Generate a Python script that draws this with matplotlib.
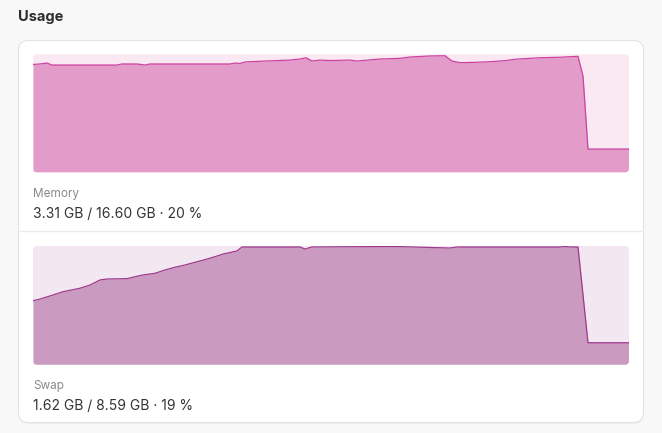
import matplotlib
matplotlib.use("Agg")
import matplotlib.pyplot as plt
from matplotlib.patches import FancyBboxPatch

# ---------------- data ----------------
mem_t = [0, 1.4, 2.8, 3.8, 16.8, 17.8, 20.8, 22.4, 23.4, 39.4, 40.4, 41.4, 42.4,
         46.4, 51.4, 53.4, 54.6, 55.8, 57.4, 59.4, 63.4, 64.8, 69.4, 73.4, 75.4,
         79.4, 82.4, 83.8, 85.4, 88.4, 91.4, 94.4, 96.4, 101.4, 105.4, 109, 110,
         111, 119.2]
mem_pct = [91.4, 91.8, 92.6, 90.9, 90.9, 91.8, 91.8, 90.9, 91.8, 91.8, 92.6, 92.2, 93.5,
           94.3, 95.1, 96.0, 97.1, 94.3, 95.1, 94.7, 95.1, 94.3, 96.0, 96.6, 97.7,
           98.6, 98.8, 94.3, 92.9, 93.2, 93.7, 94.6, 95.8, 97.1, 97.5, 98.3, 81.6,
           19.7, 19.7]

swap_t = [0, 1.4, 4.0, 6.0, 9.4, 11.4, 13.4, 14.8, 18.8, 20.4, 22.0, 24.4, 26.4,
          28.4, 30.4, 32.4, 34.4, 36.4, 38.0, 40.8, 41.8, 53.4, 54.4, 55.8, 72.4,
          83.4, 84.8, 105.4, 106.4, 107.4, 109, 111, 119.2]
swap_pct = [53.9, 55.3, 58.7, 61.5, 64.4, 67.1, 71.4, 72.2, 72.5, 74.1, 75.6, 77.0, 79.8,
            82.1, 84.0, 86.3, 88.5, 91.0, 93.2, 95.8, 99.2, 99.2, 97.5, 99.2, 99.6,
            98.3, 99.2, 99.2, 99.6, 99.2, 99.2, 18.5, 18.5]

title = "Usage"
mem_label = "Memory"
mem_stats = "3.31 GB / 16.60 GB · 20 %"
swap_label = "Swap"
swap_stats = "1.62 GB / 8.59 GB · 19 %"

# ---------------- figure ----------------
W, H = 662, 433
fig = plt.figure(figsize=(W / 100, H / 100), dpi=100)
fig.patch.set_facecolor("#f8f8f8")
plt.rcParams["font.family"] = ["Inter", "DejaVu Sans"]

ov = fig.add_axes([0, 0, 1, 1], zorder=0)
ov.set_xlim(0, W)
ov.set_ylim(H, 0)
ov.axis("off")

# card shadow + card
shadow = FancyBboxPatch((18.5, 41.5), 625, 382, boxstyle="round,pad=0,rounding_size=10",
                        facecolor="#e4e4e4", edgecolor="none")
ov.add_patch(shadow)
card = FancyBboxPatch((18.5, 40.5), 625, 382, boxstyle="round,pad=0,rounding_size=10",
                      facecolor="white", edgecolor="#e3e3e3", linewidth=0.8)
ov.add_patch(card)
ov.plot([19, 643], [231, 231], color="#ececec", lw=1.0)

ov.text(18, 16.5, title, fontsize=10.5, fontweight="bold", color="#2d2d2d", va="center", ha="left")
ov.text(33, 194, mem_label, fontsize=8.5, color="#8a8a8a", va="center", ha="left")
ov.text(33, 213.5, mem_stats, fontsize=10, color="#333333", va="center", ha="left")
ov.text(33, 386, swap_label, fontsize=8.5, color="#8a8a8a", va="center", ha="left")
ov.text(33, 406, swap_stats, fontsize=10, color="#333333", va="center", ha="left")


def area_chart(rect_px, t, vals, bg, fill, line):
    x0, y0, x1, y1 = rect_px
    bgp = FancyBboxPatch((x0, y0), x1 - x0, y1 - y0, boxstyle="round,pad=0,rounding_size=4",
                         facecolor=bg, edgecolor="none")
    ov.add_patch(bgp)
    ax = fig.add_axes([x0 / W, (H - y1) / H, (x1 - x0) / W, (y1 - y0) / H], zorder=1)
    ax.patch.set_alpha(0)
    ax.axis("off")
    ax.set_xlim(0, 119.2)
    ax.set_ylim(0, 100)
    poly = ax.fill_between(t, 0, vals, color=fill, linewidth=0)
    poly.set_clip_path(bgp)
    ln, = ax.plot(t, vals, color=line, lw=0.9)
    ln.set_clip_path(bgp)


area_chart((33, 54.3, 629, 172.3), mem_t, mem_pct, "#fae9f3", "#e39bc9", "#cc42a0")
area_chart((33, 246, 629, 364.7), swap_t, swap_pct, "#f3e7f1", "#cb9ac1", "#9e3a8c")

fig.savefig("out.png", dpi=100, facecolor=fig.get_facecolor())
